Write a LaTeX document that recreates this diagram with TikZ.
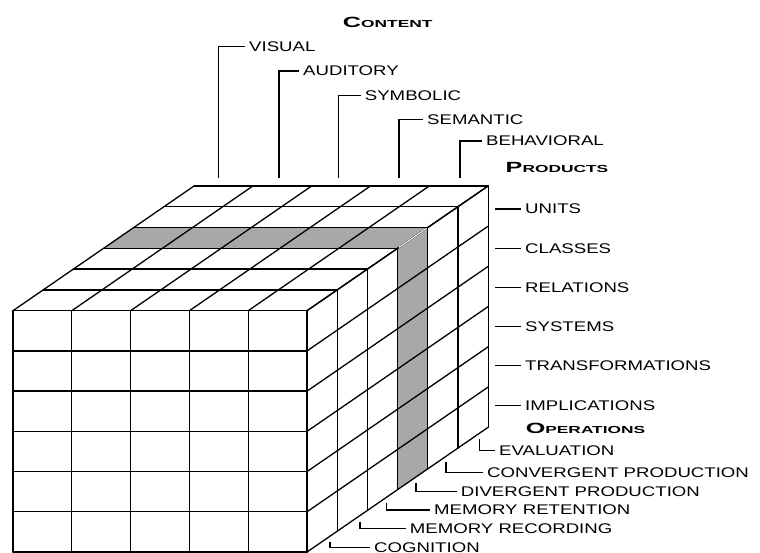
\documentclass[tikz,border=0pt]{standalone}
\usepackage{fontspec}
\setmainfont{Liberation Sans}
\newfontfamily\lblfont[FakeStretch=1.33]{Liberation Sans}
\newfontfamily\headfont[FakeStretch=1.7]{Liberation Sans}
\definecolor{slab}{HTML}{A8A8A8}
\newcommand\hcap[2]{{\fontsize{14.8}{16}\selectfont #1}{\fontsize{10.2}{12}\selectfont #2}}
% cube point: column i, row j (down), depth k
\newcommand\cp[3]{({13+58.8*(#1)+30.2*(#3)},{310.7+40.22*(#2)-20.8*(#3)})}
\begin{document}
\begin{tikzpicture}[x=1pt,y=-1pt,
  cubeline/.style={line width=1.3pt, line cap=round},
  lbl/.style={font=\lblfont\fontsize{14}{16}\selectfont, inner xsep=4pt, inner ysep=0pt, anchor=west},
  head/.style={font=\headfont\bfseries, inner sep=0pt, anchor=base},
  tick/.style={line width=1.3pt}]
\useasboundingbox[fill=white] (0,0) rectangle (760,553);

% ---- cube ----
\fill[slab] \cp{0}{0}{3} -- \cp{5}{0}{3} -- \cp{5}{0}{4} -- \cp{0}{0}{4} -- cycle;
\fill[slab] \cp{5}{0}{3} -- \cp{5}{0}{4} -- \cp{5}{6}{4} -- \cp{5}{6}{3} -- cycle;
% front face
\foreach \i in {0,...,5} \draw[cubeline] \cp{\i}{0}{0} -- \cp{\i}{6}{0};
\foreach \j in {0,...,6} \draw[cubeline] \cp{0}{\j}{0} -- \cp{5}{\j}{0};
% top face
\foreach \i in {0,...,5} \draw[cubeline] \cp{\i}{0}{0} -- \cp{\i}{0}{6};
\foreach \k in {0,...,6} \draw[cubeline] \cp{0}{0}{\k} -- \cp{5}{0}{\k};
% right face
\foreach \k in {0,...,6} \draw[cubeline] \cp{5}{0}{\k} -- \cp{5}{6}{\k};
\foreach \j in {0,...,6} \draw[cubeline] \cp{5}{\j}{0} -- \cp{5}{\j}{6};
% white corner edge of the slab
\draw[white, line width=1.1pt, shorten <=1.5pt, shorten >=1.5pt] \cp{5}{0}{3} -- \cp{5}{0}{4};

% ---- headings ----
\node[head] (hcont) at (387.7,27.3) {\hcap{C}{ONTENT}};
\node[head] (hprod) at (557,172.3) {\hcap{P}{RODUCTS}};
\node[head] (hoper) at (585.5,433.3) {\hcap{O}{PERATIONS}};

% ---- content labels ----
\node[lbl] (vis) at (245,46.7) {VISUAL};
\node[lbl] (aud) at (299,71) {AUDITORY};
\node[lbl] (sym) at (360.7,95.7) {SYMBOLIC};
\node[lbl] (sem) at (423,119.3) {SEMANTIC};
\node[lbl] (beh) at (482,141) {BEHAVIORAL};
\coordinate (fvis) at (218.3,178);
\coordinate (faud) at (279,178);
\coordinate (fsym) at (338.3,178);
\coordinate (fsem) at (399,178);
\coordinate (fbeh) at (460,178);
\draw[tick] (fvis) |- (vis.west);
\draw[tick] (faud) |- (aud.west);
\draw[tick] (fsym) |- (sym.west);
\draw[tick] (fsem) |- (sem.west);
\draw[tick] (fbeh) |- (beh.west);

% ---- product labels ----
\node[lbl] (uni) at (521,209) {UNITS};
\node[lbl] (cla) at (521,248.3) {CLASSES};
\node[lbl] (rel) at (521,287.3) {RELATIONS};
\node[lbl] (sys) at (521,326.7) {SYSTEMS};
\node[lbl] (tra) at (521,365.7) {TRANSFORMATIONS};
\node[lbl] (imp) at (521,405.7) {IMPLICATIONS};
\coordinate (funi) at (495,209);
\coordinate (fcla) at (495,248.3);
\coordinate (frel) at (495,287.3);
\coordinate (fsys) at (495,326.7);
\coordinate (ftra) at (495,365.7);
\coordinate (fimp) at (495,405.7);
\draw[tick] (funi) -- (uni.west);
\draw[tick] (fcla) -- (cla.west);
\draw[tick] (frel) -- (rel.west);
\draw[tick] (fsys) -- (sys.west);
\draw[tick] (ftra) -- (tra.west);
\draw[tick] (fimp) -- (imp.west);

% ---- operation labels ----
\node[lbl] (eva) at (495,450.7) {EVALUATION};
\node[lbl] (con) at (483,472.7) {CONVERGENT PRODUCTION};
\node[lbl] (div) at (456.7,491.7) {DIVERGENT PRODUCTION};
\node[lbl] (mre) at (430,510) {MEMORY RETENTION};
\node[lbl] (mrc) at (405.7,528.3) {MEMORY RECORDING};
\node[lbl] (cog) at (370,547.5) {COGNITION};
\coordinate (feva) at (479.3,439.3);
\coordinate (fcon) at (446,462.3);
\coordinate (fdiv) at (416,482.9);
\coordinate (fmre) at (386.7,503.1);
\coordinate (fmrc) at (360,521.5);
\coordinate (fcog) at (330,542.2);
\draw[tick] (feva) |- (eva.west);
\draw[tick] (fcon) |- (con.west);
\draw[tick] (fdiv) |- (div.west);
\draw[tick] (fmre) |- (mre.west);
\draw[tick] (fmrc) |- (mrc.west);
\draw[tick] (fcog) |- (cog.west);
\end{tikzpicture}
\end{document}
